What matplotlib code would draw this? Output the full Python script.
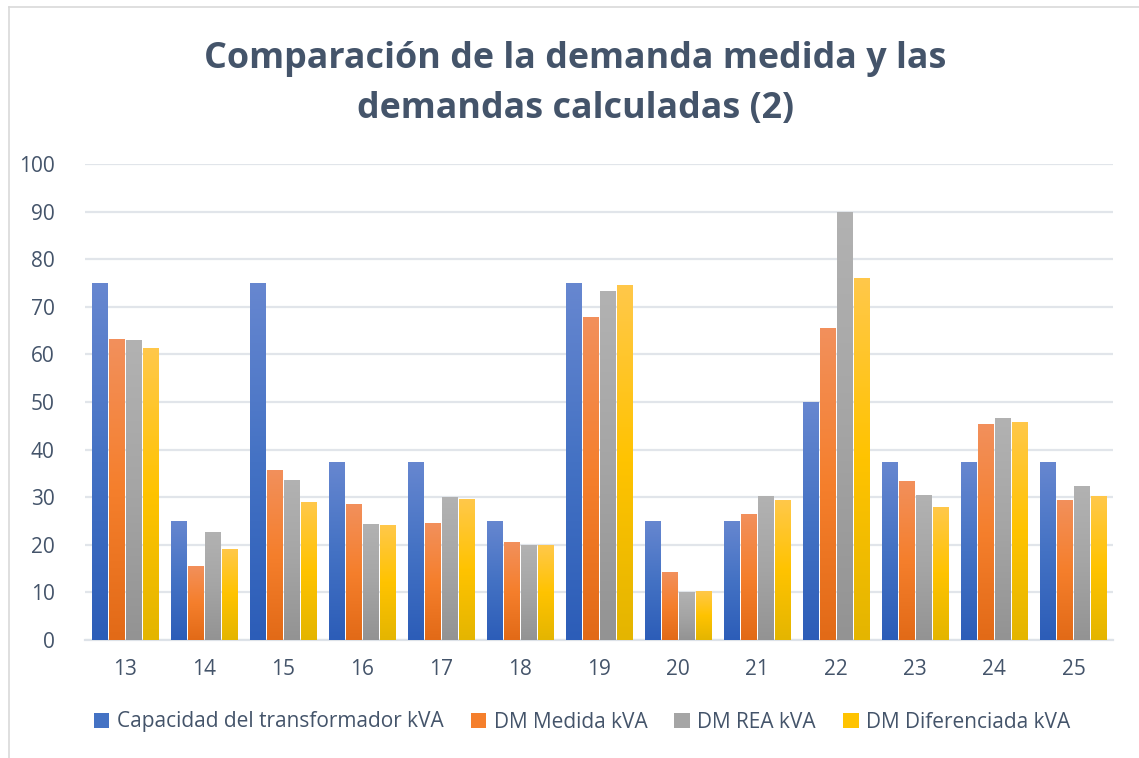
import matplotlib
matplotlib.use("Agg")
import matplotlib.pyplot as plt
import numpy as np
from matplotlib.colors import LinearSegmentedColormap
from matplotlib.lines import Line2D
from matplotlib.patches import Patch

plt.rcParams['font.family'] = ['Open Sans', 'DejaVu Sans']

categorias = ['13', '14', '15', '16', '17', '18', '19', '20', '21', '22', '23', '24', '25']
capacidad = [75, 25, 75, 37.5, 37.5, 25, 75, 25, 25, 50, 37.5, 37.5, 37.5]
dm_medida = [63.2, 15.6, 35.8, 28.5, 24.5, 20.5, 67.9, 14.2, 26.4, 65.5, 33.5, 45.3, 29.5]
dm_rea = [63.0, 22.6, 33.7, 24.3, 30.0, 19.9, 73.3, 10.0, 30.2, 90.0, 30.4, 46.6, 32.3]
dm_dif = [61.3, 19.2, 28.9, 24.1, 29.6, 19.9, 74.5, 10.2, 29.4, 76.0, 27.9, 45.8, 30.2]

series = [capacidad, dm_medida, dm_rea, dm_dif]
nombres = ['Capacidad del transformador kVA', 'DM Medida kVA', 'DM REA kVA', 'DM Diferenciada kVA']
# (arriba, medio, abajo) para el degradado tipo Excel
degradados = [
    ('#6787D0', '#4472C4', '#2C5DB8'),
    ('#F2905C', '#F57F2C', '#E26A17'),
    ('#B2B2B2', '#A5A5A5', '#939393'),
    ('#FFC84A', '#FFC300', '#E4B500'),
]

texto = '#44546A'

fig = plt.figure(figsize=(11.39, 7.58), dpi=100)
ax = fig.add_axes([85/1139, 1-640/758, (1113-85)/1139, (640-164)/758])

x = np.arange(len(categorias))
ancho = 0.19
paso = 0.215
for i, (vals, cols) in enumerate(zip(series, degradados)):
    cmap = LinearSegmentedColormap.from_list('g%d' % i, [cols[2], cols[1], cols[0]])
    grad = np.linspace(0, 1, 256).reshape(-1, 1)
    barras = ax.bar(x + (i - 1.5) * paso, vals, ancho, color='none', zorder=3)
    for b in barras:
        x0, w, h = b.get_x(), b.get_width(), b.get_height()
        im = ax.imshow(grad, cmap=cmap, origin='lower', aspect='auto',
                       extent=[x0, x0 + w, 0, h], zorder=3, interpolation='bicubic')
        im.set_clip_path(b)

ax.set_xlim(-0.5, len(categorias) - 0.5)
ax.set_ylim(0, 100)
ax.set_yticks(range(0, 101, 10))
ax.set_xticks(x)
ax.set_xticklabels(categorias)
ax.grid(axis='y', color='#E1E5EA', linewidth=1.6, zorder=0)
ax.set_axisbelow(True)
for s in ['top', 'right', 'left']:
    ax.spines[s].set_visible(False)
ax.spines['bottom'].set_color('#DDE2E8')
ax.spines['bottom'].set_linewidth(1.6)
ax.tick_params(axis='both', length=0, labelsize=15, colors=texto)
ax.tick_params(axis='y', pad=22)
ax.tick_params(axis='x', pad=14)

fig.text(0.505, 1-84/758, 'Comparación de la demanda medida y las\ndemandas calculadas (2)',
         ha='center', va='center', fontsize=25.8, fontweight='bold', color=texto, linespacing=1.52)

handles = [Patch(facecolor=c[1], edgecolor='none') for c in degradados]
fig.legend(handles, nombres, loc='center', bbox_to_anchor=(582/1139, 1-722/758), ncol=4,
           frameon=False, fontsize=15, handlelength=0.75, handleheight=0.75,
           handletextpad=0.35, columnspacing=1.3, labelcolor=texto)

# borde del gráfico
fig.add_artist(Line2D([9/1139, 9/1139], [0, 1-7/758], color='#D9D9D9', linewidth=1.2))
fig.add_artist(Line2D([9/1139, 1], [1-7/758, 1-7/758], color='#D9D9D9', linewidth=1.2))

fig.savefig('out.png', dpi=100)
